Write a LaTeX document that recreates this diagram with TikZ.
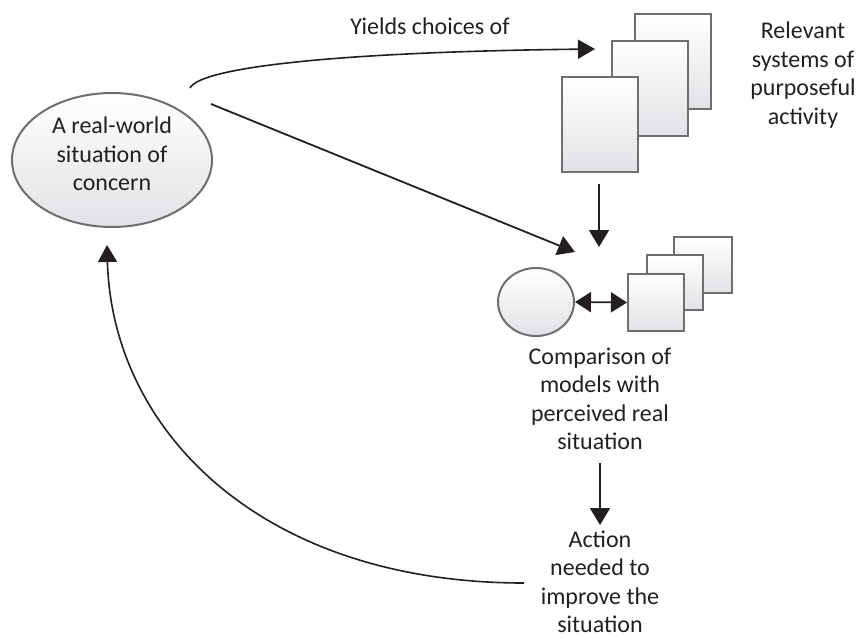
\documentclass[tikz,border=0pt]{standalone}
\usepackage{fontspec}
\setmainfont{Carlito}
\usetikzlibrary{arrows.meta,shapes.geometric}
\definecolor{txt}{HTML}{231F20}
\definecolor{edge}{HTML}{6E6E70}
\definecolor{shadebot}{HTML}{E2E2E6}
\tikzset{
  lbl/.style={font=\fontsize{24}{28.5}\selectfont, text=txt, align=center, inner sep=0pt},
  boxshape/.style={draw=edge, line width=2pt, top color=white, bottom color=shadebot},
  conn/.style={draw=txt, line width=1.8pt, -{Triangle[length=17pt,width=20pt]}},
  thin/.style={draw=txt, line width=1.6pt, -{Triangle[length=17pt,width=19pt]}},
}
\begin{document}
\begin{tikzpicture}[x=1pt,y=-1pt]
\useasboundingbox (0,0) rectangle (858,637);
% main ellipse
\node[ellipse, boxshape, minimum width=200pt, minimum height=134pt, inner sep=0pt] (real) at (112,160) {};
\node[lbl] (realtxt) at (112,154) {A real-world\\situation of\\concern};
% relevant systems stack
\path[boxshape] (635,14) rectangle (711,109);
\path[boxshape] (612,41) rectangle (688,136);
\node[boxshape, rectangle, minimum width=76pt, minimum height=95pt, inner sep=0pt] (front) at (600,124.5) {};
\node[lbl] (rel) at (803,75) {Relevant\\systems of\\purposeful\\activity};
% comparison
\node[ellipse, boxshape, minimum width=76pt, minimum height=68pt, inner sep=0pt] (small) at (536,302) {};
\path[boxshape] (674,237) rectangle (732,293);
\path[boxshape] (647,255) rectangle (703,310);
\node[boxshape, rectangle, minimum width=56pt, minimum height=57pt, inner sep=0pt] (sq) at (656,302.5) {};
\node[lbl] (comp) at (600,399) {Comparison of\\models with\\perceived real\\situation};
\node[lbl] (act) at (600,582) {Action\\needed to\\improve the\\situation};
% label
\node[lbl] (yields) at (430,26) {Yields choices of};
% connector endpoints
\coordinate (ys) at (190,88);
\coordinate (ye) at (595,49);
\coordinate (ds) at (211,104);
\coordinate (de) at (575,252);
\coordinate (vs) at (599,184);
\coordinate (ve) at (599,247);
\coordinate (cs) at (600,463);
\coordinate (ce) at (600,525);
\coordinate (bs) at (524,583);
\coordinate (be) at (107,245);
% connectors
\draw[thin] (ys) .. controls (200,68) and (330,52) .. (ye);
\draw[conn] (ds) -- (de);
\draw[conn] (vs) -- (ve);
\draw[draw=txt, line width=1.8pt, {Triangle[length=16pt,width=20pt]}-{Triangle[length=16pt,width=20pt]}] (small.east) -- (sq.west);
\draw[conn] (cs) -- (ce);
\draw[thin] (bs) .. controls (260,583) and (112,430) .. (be);
\end{tikzpicture}
\end{document}
